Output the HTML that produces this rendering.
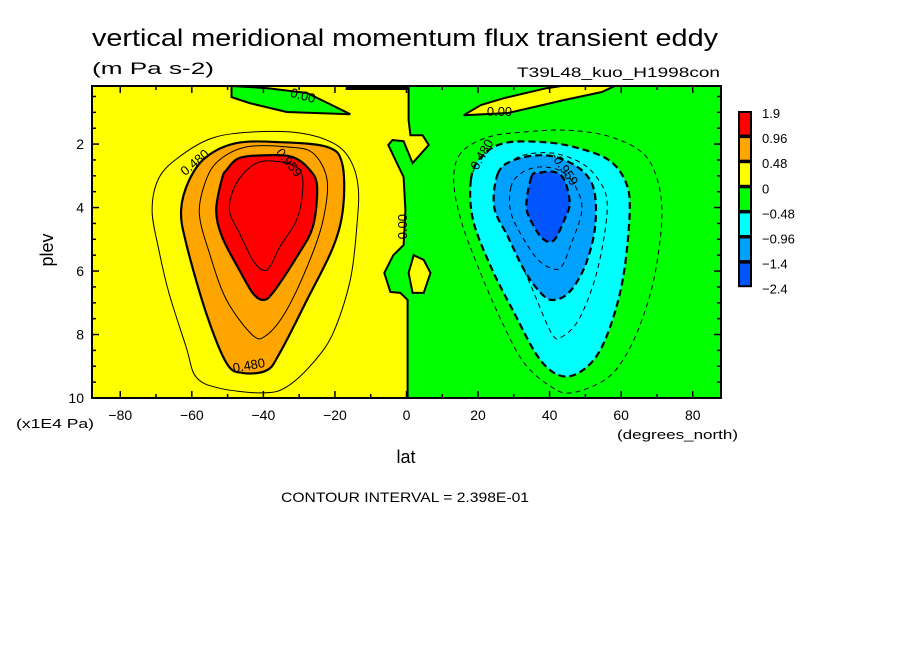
<!DOCTYPE html>
<html><head><meta charset="utf-8"><style>
html,body{margin:0;padding:0;background:#fff;}
svg{display:block;font-family:"Liberation Sans",sans-serif;}
</style></head><body>
<svg id="chart" width="904" height="654" viewBox="0 0 904 654" xmlns="http://www.w3.org/2000/svg">
<rect width="904" height="654" fill="#fff"/>
<text x="92" y="46" font-size="24" textLength="626" lengthAdjust="spacingAndGlyphs">vertical meridional momentum flux transient eddy</text>
<text x="92" y="74" font-size="17" textLength="122" lengthAdjust="spacingAndGlyphs">(m Pa s-2)</text>
<text x="720" y="77" font-size="14" text-anchor="end" textLength="203" lengthAdjust="spacingAndGlyphs">T39L48_kuo_H1998con</text>
<g id="plot"></g>
<g id="axes"></g>
<g id="cbar"></g>
<text transform="translate(53,250) rotate(-90)" font-size="18" text-anchor="middle">plev</text>
<text x="406" y="463" font-size="18" text-anchor="middle">lat</text>
<text x="16" y="428" font-size="13" textLength="78" lengthAdjust="spacingAndGlyphs">(x1E4 Pa)</text>
<text x="617" y="439" font-size="13" textLength="121" lengthAdjust="spacingAndGlyphs">(degrees_north)</text>
<text x="281" y="502" font-size="14" textLength="248" lengthAdjust="spacingAndGlyphs">CONTOUR INTERVAL = 2.398E-01</text>
</svg>
<script>
const NS="http://www.w3.org/2000/svg";
const latRange=[-87.9,87.9];
const plevRange=[0.17,10];
const xTicks=[-80,-60,-40,-20,0,20,40,60,80];
const yTicks=[2,4,6,8,10];
const cbarLevels=["1.9","0.96","0.48","0","-0.48","-0.96","-1.4","-2.4"];
const cbarColors=["#ff0000","#ffa500","#ffff00","#00ff00","#00ffff","#00a0ff","#0055ff"];
// contour polygons in [lat, plev]
const eqGreen=[[0.3,10],[0.3,6.91],[-1.7,6.69],[-4.5,6.66],[-6.2,6.06],[-3.7,5.5],[-0.8,5.18],[-0.3,4.08],[-0.8,3.04],[-5.1,2.03],[-3.9,1.87],[-0.8,1.91],[1.7,2.6],[6.2,2.03],[4.5,1.72],[1.1,1.72],[0.6,1.24],[0.6,0.17],[87.9,0.17],[87.9,10]];
const eqIsland=[[2.0,5.5],[0.6,6.06],[1.7,6.69],[4.8,6.69],[6.7,6.06],[4.8,5.65]];
const topGreen=[[-48.9,0.17],[-38.8,0.24],[-27.8,0.39],[-21.4,0.74],[-15.7,1.06],[-33.5,0.99],[-43.9,0.71],[-48.9,0.52]];
const topYellow=[[58.2,0.17],[54.6,0.36],[44.1,0.61],[28.4,1.02],[16.0,1.09],[20.8,0.77],[27.3,0.55],[39.1,0.24],[43.3,0.17]];
const L024=[[-69.2,3.07],[-71.1,4.08],[-69.2,5.34],[-66.4,6.69],[-61.6,8.39],[-58.8,9.34],[-52.3,9.69],[-40.2,9.84],[-33.5,9.65],[-26.2,8.9],[-20.5,7.95],[-15.7,6.28],[-13.8,4.49],[-13.5,3.35],[-15.7,2.5],[-20.5,1.97],[-29.8,1.65],[-43.0,1.62],[-54.3,1.81],[-63.6,2.41]];
const L048=[[-60.7,3.13],[-63.0,4.08],[-61.6,5.12],[-56.0,7.32],[-50.3,8.9],[-45.8,9.21],[-39.1,9.13],[-35.4,8.58],[-27.8,6.91],[-20.5,5.24],[-17.7,3.98],[-18.0,2.6],[-22.2,2.09],[-35.4,1.94],[-47.5,1.97],[-56.0,2.41]];
const L072=[[-56.0,3.13],[-57.9,4.17],[-55.1,5.43],[-50.3,6.91],[-43.0,8.02],[-39.1,8.02],[-33.5,7.23],[-27.0,5.65],[-23.3,4.39],[-22.2,3.13],[-26.2,2.28],[-33.5,2.09],[-44.7,2.09],[-52.3,2.5]];
const L096=[[-51.5,3.07],[-53.2,4.08],[-51.5,4.93],[-46.7,5.97],[-43.0,6.69],[-40.2,6.91],[-37.4,6.69],[-30.7,5.56],[-26.2,4.61],[-25.0,3.35],[-27.0,2.82],[-31.8,2.41],[-39.1,2.35],[-46.7,2.44],[-50.3,2.82]];
const L120=[[-47.5,3.23],[-49.5,4.08],[-46.7,4.8],[-43.0,5.65],[-40.2,5.97],[-38.2,5.87],[-35.4,5.24],[-30.7,4.39],[-29.0,3.45],[-29.8,2.82],[-34.6,2.57],[-41.9,2.6]];
const R024=[[15.2,2.28],[13.2,3.13],[15.2,4.39],[20.0,5.87],[26.4,7.54],[32.9,8.9],[40.5,9.65],[46.1,9.84],[55.4,9.43],[61.0,8.71],[65.8,7.54],[69.5,6.06],[71.4,4.17],[69.5,2.91],[65.0,2.19],[55.4,1.72],[44.1,1.56],[32.9,1.62],[22.8,1.78]];
const R048=[[18.0,3.13],[18.6,4.39],[23.6,5.87],[30.1,7.32],[36.8,8.71],[42.5,9.28],[48.1,9.21],[53.7,8.58],[58.2,7.32],[61.0,5.87],[62.4,3.98],[61.0,3.13],[56.5,2.5],[48.1,2.13],[38.5,1.94],[27.3,1.97],[20.8,2.41]];
const R072=[[26.4,3.04],[25.6,4.08],[29.2,5.02],[34.9,6.5],[40.5,7.95],[43.3,8.08],[48.1,7.54],[52.6,6.28],[55.4,4.8],[56.0,3.76],[53.7,3.13],[48.9,2.6],[40.5,2.28],[31.2,2.41]];
const R096=[[25.6,2.91],[24.5,3.98],[28.4,4.93],[32.9,5.97],[36.8,6.6],[40.5,6.91],[45.3,6.69],[49.8,5.87],[52.6,4.71],[52.6,3.54],[49.8,2.91],[44.1,2.5],[37.7,2.35],[30.1,2.5]];
const R120=[[29.2,3.35],[29.2,4.17],[32.9,5.02],[36.8,5.65],[40.5,5.91],[43.3,5.87],[46.1,5.12],[48.9,4.17],[48.1,3.54],[44.1,2.91],[37.7,2.72],[32.1,2.91]];
const R144=[[34.9,3.04],[33.5,3.98],[35.7,4.61],[38.5,5.02],[41.3,5.02],[44.1,4.39],[45.6,3.86],[44.1,3.13],[41.3,2.88],[36.8,2.91]];

const PX0=92,PX1=721,PY0=86,PY1=398;
function xs(lat){return PX0+(lat-latRange[0])/(latRange[1]-latRange[0])*(PX1-PX0);}
function ys(p){return PY0+(p-plevRange[0])/(plevRange[1]-plevRange[0])*(PY1-PY0);}
function smooth(pts){
  const P=pts.map(d=>[xs(d[0]),ys(d[1])]);const n=P.length;
  let d="M"+P[0][0].toFixed(1)+","+P[0][1].toFixed(1);
  for(let i=0;i<n;i++){const p0=P[(i-1+n)%n],p1=P[i],p2=P[(i+1)%n],p3=P[(i+2)%n];
    const c1=[p1[0]+(p2[0]-p0[0])/6,p1[1]+(p2[1]-p0[1])/6],c2=[p2[0]-(p3[0]-p1[0])/6,p2[1]-(p3[1]-p1[1])/6];
    d+="C"+c1.map(v=>v.toFixed(1))+" "+c2.map(v=>v.toFixed(1))+" "+p2.map(v=>v.toFixed(1));}
  return d+"Z";}
function poly(pts){return "M"+pts.map(d=>xs(d[0]).toFixed(1)+","+ys(d[1]).toFixed(1)).join("L")+"Z";}
const plot=document.getElementById('plot');
function add(parent,tag,attrs){const e=document.createElementNS(NS,tag);for(const k in attrs)e.setAttribute(k,attrs[k]);parent.appendChild(e);return e;}
const clip=add(plot,'clipPath',{id:'pc'});add(clip,'rect',{x:PX0,y:PY0,width:PX1-PX0,height:PY1-PY0});
const g=add(plot,'g',{'clip-path':'url(#pc)'});
let e=add(g,'rect',{x:PX0,y:PY0,width:PX1-PX0,height:PY1-PY0,fill:'#ffff00'});


e=add(g,'path',{d:poly(eqGreen),fill:'#00ff00',stroke:'#000','stroke-width':2});


e=add(g,'path',{d:poly(eqIsland),fill:'#ffff00',stroke:'#000','stroke-width':2});


e=add(g,'path',{d:poly(topGreen),fill:'#00ff00',stroke:'#000','stroke-width':2});


e=add(g,'path',{d:poly(topYellow),fill:'#ffff00',stroke:'#000','stroke-width':2});


add(g,'rect',{x:xs(-17),y:PY0,width:xs(0.6)-xs(-17),height:4,fill:'#000'});
const cs=[
 [L024,null,1,false,'contour-pos-024'],[L048,'#ffa500',2.2,false,'contour-pos-048'],[L072,null,1,false,'contour-pos-072'],
 [L096,'#ff0000',2.2,false,'contour-pos-096'],[L120,null,1,false,'contour-pos-120'],
 [R024,null,1,true,'contour-neg-024'],[R048,'#00ffff',2.2,true,'contour-neg-048'],[R072,null,1,true,'contour-neg-072'],
 [R096,'#00a0ff',2.2,true,'contour-neg-096'],[R120,null,1,true,'contour-neg-120'],[R144,'#0055ff',2.2,true,'contour-neg-144']];
cs.forEach(c=>{const a={d:smooth(c[0]),fill:c[1]||'none',stroke:'#000','stroke-width':c[2]};
 if(c[3])a['stroke-dasharray']=c[2]>2?'7,4':'5,4';
 const p=add(g,'path',a);
 
 });
const labs=[["0.480",-59,2.6,-40],["0.959",-33,2.6,50],["0.480",-44,9.0,-10],["0.00",-0.8,4.6,-90],["0.00",-29,0.5,15],["0.00",26,1.0,0],["-0.480",21,2.4,-60],["-0.959",44,2.8,55]];
labs.forEach(l=>{const t=add(g,'text',{x:xs(l[1]),y:ys(l[2]),'font-size':13,'text-anchor':'middle','dominant-baseline':'middle',transform:`rotate(${l[3]} ${xs(l[1])} ${ys(l[2])})`});
 t.textContent=l[0];
 
 });
add(plot,'rect',{x:PX0,y:PY0,width:PX1-PX0,height:PY1-PY0,fill:'none',stroke:'#000','stroke-width':2});
const ax=document.getElementById('axes');
for(let v=-80;v<=80;v+=10){const L=v%20===0?7:4;
 add(ax,'line',{x1:xs(v),x2:xs(v),y1:PY1,y2:PY1-L,stroke:'#000','stroke-width':1.5});
 add(ax,'line',{x1:xs(v),x2:xs(v),y1:PY0,y2:PY0+L,stroke:'#000','stroke-width':1.5});}
for(let v=0.5;v<=10;v+=0.5){const L=v%2===0?7:4;
 add(ax,'line',{x1:PX0,x2:PX0+L,y1:ys(v),y2:ys(v),stroke:'#000','stroke-width':1.5});
 add(ax,'line',{x1:PX1,x2:PX1-L,y1:ys(v),y2:ys(v),stroke:'#000','stroke-width':1.5});}
xTicks.forEach(v=>{const t=add(ax,'text',{x:xs(v),y:PY1+22,'font-size':14,'text-anchor':'middle'});
 t.textContent=v<0?'\u2212'+(-v):String(v);
 
 });
yTicks.forEach(v=>{const t=add(ax,'text',{x:PX0-8,y:ys(v)+5,'font-size':14,'text-anchor':'end'});
 t.textContent=String(v);
 
 });
const cb=document.getElementById('cbar');const bx=739,bw=12,by=112,bh=23.6;
cbarColors.forEach((c,i)=>{const r=add(cb,'rect',{x:bx,y:by+i*(bh+1.5),width:bw,height:bh,fill:c,stroke:'#000','stroke-width':2});
 
 });
cbarLevels.forEach((s,i)=>{const t=add(cb,'text',{x:762,y:by+6+i*(bh+1.5),'font-size':13});
 t.textContent=s.replace('-','\u2212');
 
 });
</script>
</body></html>
